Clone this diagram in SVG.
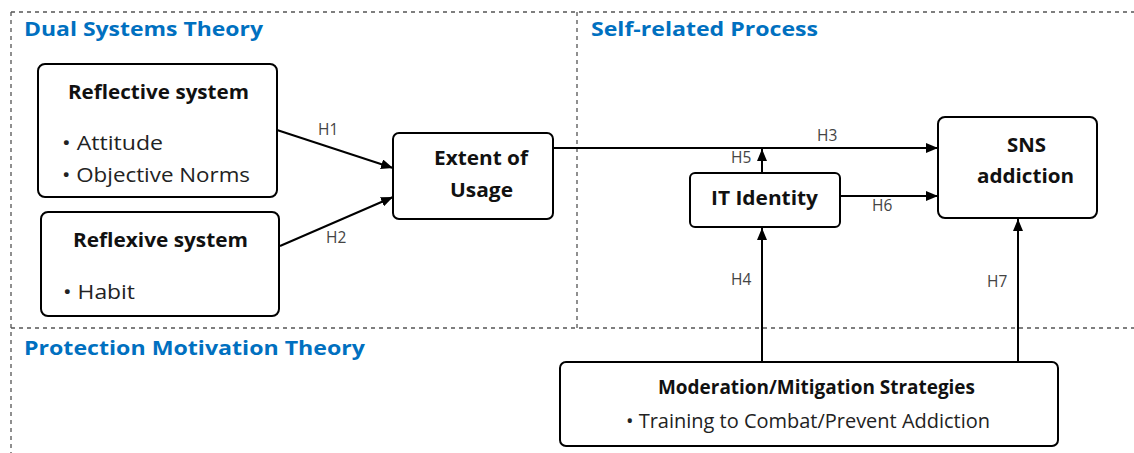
<svg xmlns="http://www.w3.org/2000/svg" width="1134" height="453" viewBox="0 0 1134 453">
<defs>
<marker id="arr" viewBox="0 0 12 10" refX="12" refY="5" markerWidth="6" markerHeight="5" markerUnits="strokeWidth" orient="auto">
<path d="M0,0 L12,5 L0,10 z" fill="#000"/>
</marker>
<style>
.frame{fill:none;stroke:#555;stroke-width:1.3;stroke-dasharray:4,4}
.box{fill:#fff;stroke:#000;stroke-width:2}
.sec{font-family:"Open Sans","Noto Sans",sans-serif;font-weight:bold;font-size:20px;fill:#0070C0}
.title{font-family:"Open Sans","Noto Sans",sans-serif;font-weight:bold;font-size:19.5px;fill:#111}
.item{font-family:"Open Sans","Noto Sans",sans-serif;font-size:19.5px;fill:#222}
.lbl{font-family:"Open Sans","Noto Sans",sans-serif;font-size:15.5px;fill:#444}
.con{fill:none;stroke:#000;stroke-width:2;marker-end:url(#arr)}
</style>
</defs>
<rect width="1134" height="453" fill="#fff"/>
<g id="frames">
<path class="frame" d="M11,12 H1134 M11,12 V453 M577,12 V328 M11,328 H1134"/>
</g>
<g id="sections">
<text class="sec" x="24" y="36" textLength="239" lengthAdjust="spacingAndGlyphs">Dual Systems Theory</text>
<text class="sec" x="591" y="36" textLength="227" lengthAdjust="spacingAndGlyphs">Self-related Process</text>
<text class="sec" x="24" y="355" textLength="341" lengthAdjust="spacingAndGlyphs">Protection Motivation Theory</text>
</g>
<g id="reflective">
<rect class="box" x="38" y="64" width="239" height="133" rx="7"/>
<text class="title" x="68" y="99" textLength="181" lengthAdjust="spacingAndGlyphs">Reflective system</text>
<text class="item" x="62" y="150" textLength="101" lengthAdjust="spacingAndGlyphs">• Attitude</text>
<text class="item" x="62" y="182" textLength="188" lengthAdjust="spacingAndGlyphs">• Objective Norms</text>
</g>
<g id="reflexive">
<rect class="box" x="41" y="212" width="238" height="104" rx="7"/>
<text class="title" x="73" y="247" textLength="175" lengthAdjust="spacingAndGlyphs">Reflexive system</text>
<text class="item" x="63" y="299" textLength="72" lengthAdjust="spacingAndGlyphs">• Habit</text>
</g>
<g id="extent">
<rect class="box" x="393" y="133" width="160" height="86" rx="6"/>
<text class="title" x="434" y="165" textLength="94" lengthAdjust="spacingAndGlyphs">Extent of</text>
<text class="title" x="450" y="197" textLength="63" lengthAdjust="spacingAndGlyphs">Usage</text>
</g>
<g id="itidentity">
<rect class="box" x="690" y="173" width="150" height="54" rx="5"/>
<text class="title" x="711" y="205" textLength="107" lengthAdjust="spacingAndGlyphs">IT Identity</text>
</g>
<g id="sns">
<rect class="box" x="938" y="117" width="159" height="101" rx="7"/>
<text class="title" x="1007" y="152" textLength="39" lengthAdjust="spacingAndGlyphs">SNS</text>
<text class="title" x="977" y="183" textLength="97" lengthAdjust="spacingAndGlyphs">addiction</text>
</g>
<g id="moderation">
<rect class="box" x="560" y="362" width="498" height="84" rx="6"/>
<text class="title" x="658" y="394" textLength="317" lengthAdjust="spacingAndGlyphs">Moderation/Mitigation Strategies</text>
<text class="item" x="626" y="428" textLength="364" lengthAdjust="spacingAndGlyphs">• Training to Combat/Prevent Addiction</text>
</g>
<g id="connectors">
<line class="con" x1="277" y1="130" x2="393" y2="168"/>
<line class="con" x1="280" y1="246" x2="393" y2="197"/>
<line class="con" x1="553" y1="148" x2="938" y2="148"/>
<line class="con" x1="762" y1="173" x2="762" y2="149"/>
<line class="con" x1="840" y1="196" x2="938" y2="196"/>
<line class="con" x1="762" y1="362" x2="762" y2="228"/>
<line class="con" x1="1018" y1="362" x2="1018" y2="219"/>
<text class="lbl" x="318" y="135">H1</text>
<text class="lbl" x="326" y="243">H2</text>
<text class="lbl" x="817" y="141">H3</text>
<text class="lbl" x="731" y="163">H5</text>
<text class="lbl" x="872" y="211">H6</text>
<text class="lbl" x="731" y="285">H4</text>
<text class="lbl" x="987" y="287">H7</text>
</g>
</svg>
